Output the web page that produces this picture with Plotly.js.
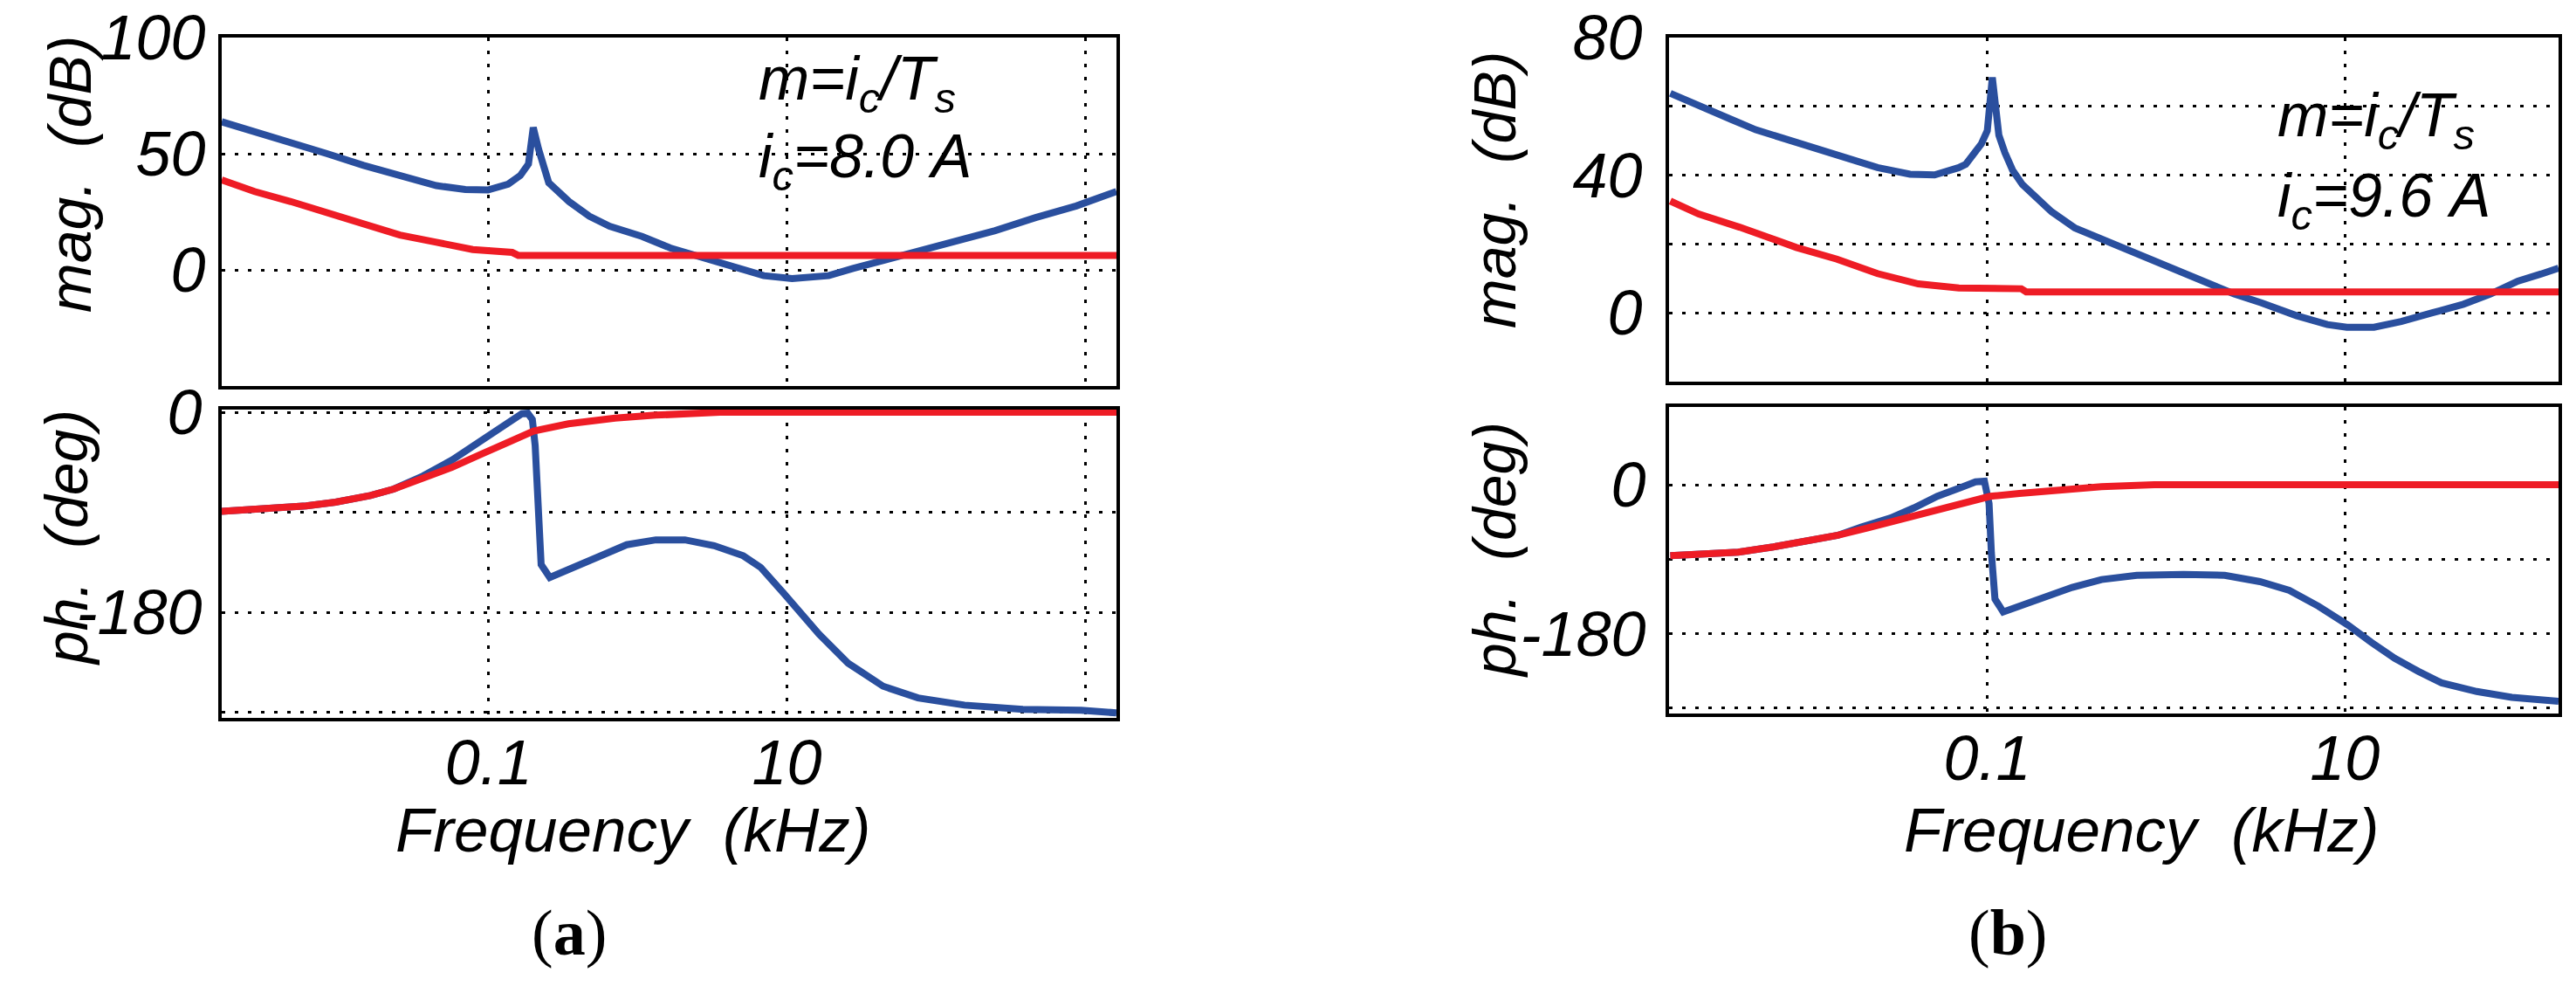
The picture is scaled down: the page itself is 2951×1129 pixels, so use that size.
<!DOCTYPE html>
<html><head><meta charset="utf-8">
<script src="https://cdn.plot.ly/plotly-3.0.1.min.js"></script>
<style>html,body{margin:0;padding:0;background:#fff;}#chart{width:2951px;height:1129px;}</style>
</head><body><div id="chart"></div>
<script>
// ---------------- DATA (frequency in kHz) ----------------
// Panel (a): i_c = 8.0 A
const fA_magBlue = [0.00162,0.00471,0.00826,0.01449,0.0254,0.0446,0.0698,0.09886,0.1352,0.1629,0.1849,0.1991,0.2163,0.2529,0.3459,0.4732,0.6471,1.069,1.656,2.570,4.236,6.998,10.84,19.05,27.73,43.05,71.12,133.0,248.9,465.6,871.0,1622];
const magA_blue  = [63.75,55,50,45,40.6,36.25,34.6,34.4,36.9,40.6,45.6,61.25,51.9,37.5,29.4,23.1,18.75,14.4,9.4,5.6,1.9,-2.5,-3.75,-2.5,0.6,3.75,7.5,12.5,16.9,22.5,27.5,33.75];
const fA_magRed  = [0.00162,0.00269,0.00471,0.00826,0.01449,0.0254,0.0446,0.0782,0.1439,0.158,1622];
const magA_red   = [38.75,33.75,29.4,24.4,19.4,15,11.9,8.75,7.5,6.25,6.25];
const fA_phRed   = [0.00162,0.003192,0.005984,0.009397,0.01611,0.02307,0.03622,0.05675,0.08892,0.1396,0.2000,0.3428,0.7047,1.321,3.556,1622];
const phA_red    = [-89.2,-86.9,-84.3,-80.9,-74.9,-69.1,-59.2,-49.6,-37.8,-26.1,-17,-10.4,-5.2,-2.6,0,0];
const fA_phBlue  = [0.00162,0.003192,0.005984,0.009397,0.01611,0.02307,0.03622,0.05675,0.08892,0.1274,0.1671,0.1828,0.1963,0.2051,0.2148,0.2249,0.2570,0.3428,0.5370,0.8433,1.321,2.070,3.251,5.093,6.668,9.550,12.53,16.41,25.70,44.16,75.68,155.2,382.0,939.7,1622];
const phA_blue   = [-89.2,-86.9,-84.3,-80.9,-74.9,-69.1,-57.4,-43,-26.1,-13,-1.3,-0.8,-6.5,-30,-82.2,-137,-148.7,-142.2,-130.4,-119.2,-114.8,-114.8,-120,-129.1,-139.6,-163.1,-181.3,-199.6,-225.7,-246.5,-257,-263.5,-267.4,-268.2,-270.5];

// Panel (b): i_c = 9.6 A
const fB_magBlue = [0.001687,0.002432,0.003698,0.005070,0.008551,0.01442,0.02432,0.03698,0.05070,0.06934,0.07586,0.09268,0.1,0.1067,0.1161,0.1253,0.1384,0.1570,0.1871,0.2286,0.3083,0.4375,0.6209,0.9268,1.253,1.871,2.399,3.412,5.346,7.980,10.26,14.55,20.65,30.83,46.03,65.31,92.68,125.3,156.7];
const magB_blue  = [63.8,60,56.2,53.2,49.4,45.6,42.2,40.3,40.1,42.2,43.2,49.1,52.9,68.4,51.6,46.6,41.5,37.3,33.6,29.4,24.7,21.4,18,14.3,11.3,8,5.5,2.9,-0.8,-3.4,-4.2,-4.2,-2.5,0,2.5,5.5,9.2,11.3,13.0];
const fB_magRed  = [0.001687,0.002432,0.004111,0.008551,0.01442,0.02432,0.04111,0.06934,0.155,0.165,156.7];
const magB_red   = [32.5,28.7,24.9,19,15.6,11.4,8.4,7.2,7.0,6.1,6.1];
const fB_phRed   = [0.001687,0.002773,0.004046,0.006353,0.01,0.01459,0.02128,0.03350,0.05260,0.07674,0.1038,0.1514,0.2382,0.4355,0.8590,156.7];
const phB_red    = [-85.7,-83.2,-81.5,-75.2,-68.2,-61.2,-52.5,-42,-29.7,-21,-14,-10.5,-6.3,-2.4,0,0];
const fB_phBlue  = [0.001687,0.002773,0.004046,0.006353,0.01,0.01459,0.01972,0.02877,0.03890,0.05260,0.07112,0.08590,0.09638,0.1023,0.1054,0.1104,0.1227,0.1514,0.2046,0.2985,0.4355,0.6855,1.253,2.128,3.350,4.887,7.112,10.38,14.06,19.01,25.70,34.75,54.70,85.90,156.7];
const phB_blue   = [-85.7,-83.2,-81.5,-75.2,-68.2,-61.2,-51.4,-40.2,-28,-14,-3.5,3.5,4.2,-22.7,-82.2,-138.2,-153.9,-146.9,-136.4,-124.2,-114.7,-109.5,-108.4,-109.5,-117.2,-127.7,-146.9,-169.6,-190.6,-209.9,-225.6,-239.6,-250.1,-257.1,-262];

// tick labels (labelled) and extra unlabelled grid positions
const xTickValsA = [0.1, 10];
const xTickTextA = ['0.1', '10'];
const xGridA = [1000];
const xTickValsB = [0.1, 10];
const xTickTextB = ['0.1', '10'];
const magTickValsA = [0, 50, 100];
const magTickTextA = ['0', '50', '100'];
const magGridA = [-50];
const magTickValsB = [0, 40, 80];
const magTickTextB = ['0', '40', '80'];
const magGridB = [-20, 20, 60];
const phTickVals = [-180, 0];
const phTickText = ['-180', '0'];
const phGrid = [-270, -90];

// ---------------- LAYOUT ----------------
const W = 2951, H = 1129;
const X = p => p / W;
const Y = p => 1 - p / H;
const SANS = 'Liberation Sans, Arial, sans-serif';
const BLUE = '#2a4f9e', RED = '#ee1c25';
const LW = 8;

function line(x, y, color, xa, ya) {
  return {x: x, y: y, xaxis: xa, yaxis: ya, type: 'scatter', mode: 'lines',
          line: {color: color, width: LW, shape: 'linear'}, hoverinfo: 'skip', showlegend: false};
}

const data = [
  line(fA_magBlue, magA_blue, BLUE, 'x', 'y'),
  line(fA_magRed, magA_red, RED, 'x', 'y'),
  line(fA_phBlue, phA_blue, BLUE, 'x2', 'y2'),
  line(fA_phRed, phA_red, RED, 'x2', 'y2'),
  line(fB_magBlue, magB_blue, BLUE, 'x3', 'y3'),
  line(fB_magRed, magB_red, RED, 'x3', 'y3'),
  line(fB_phBlue, phB_blue, BLUE, 'x4', 'y4'),
  line(fB_phRed, phB_red, RED, 'x4', 'y4')
];

const tickFont = {family: SANS, size: 72, color: '#000', style: 'italic'};
function ax(extra, gridVals) {
  const o = Object.assign({
    showline: true, linecolor: '#000', linewidth: 4, mirror: true,
    showgrid: true, gridcolor: '#000', gridwidth: 3, griddash: '4px,11px',
    zeroline: false, ticks: '', tickmode: 'array', tickfont: tickFont,
    fixedrange: true, automargin: false
  }, extra);
  if (gridVals) {
    o.minor = {tickmode: 'array', tickvals: gridVals, showgrid: true, ticks: '',
               gridcolor: '#000', gridwidth: 3, griddash: '4px,11px'};
  }
  return o;
}

const layout = {
  width: W, height: H,
  margin: {l: 0, r: 0, t: 0, b: 0, pad: 0},
  paper_bgcolor: '#fff', plot_bgcolor: '#fff',
  font: {family: SANS, color: '#000'},
  showlegend: false,
  // panel (a)
  xaxis:  ax({type: 'log', domain: [X(254), X(1279)], range: [-2.79, 3.21], anchor: 'y',
              tickvals: xTickValsA, ticktext: xTickTextA, showticklabels: false}, xGridA),
  yaxis:  ax({domain: [Y(442), Y(43)], range: [-50, 100], anchor: 'x',
              tickvals: magTickValsA, ticktext: magTickTextA}, magGridA),
  xaxis2: ax({type: 'log', domain: [X(254), X(1279)], range: [-2.79, 3.21], anchor: 'y2',
              tickvals: xTickValsA, ticktext: xTickTextA, ticklabelstandoff: -14}, xGridA),
  yaxis2: ax({domain: [Y(822), Y(469)], range: [-275, 2.4], anchor: 'x2',
              tickvals: phTickVals, ticktext: phTickText, ticklabelstandoff: 4}, phGrid),
  // panel (b)
  xaxis3: ax({type: 'log', domain: [X(1912), X(2931)], range: [-2.78, 2.195], anchor: 'y3',
              tickvals: xTickValsB, ticktext: xTickTextB, showticklabels: false}),
  yaxis3: ax({domain: [Y(437), Y(43)], range: [-20, 80], anchor: 'x3',
              tickvals: magTickValsB, ticktext: magTickTextB, ticklabelstandoff: 12}, magGridB),
  xaxis4: ax({type: 'log', domain: [X(1912), X(2931)], range: [-2.78, 2.195], anchor: 'y4',
              tickvals: xTickValsB, ticktext: xTickTextB, ticklabelstandoff: -14}),
  yaxis4: ax({domain: [Y(817), Y(466)], range: [-276.7, 94], anchor: 'x4',
              tickvals: phTickVals, ticktext: phTickText, ticklabelstandoff: 8}, phGrid),
  annotations: []
};

const labFont = {family: SANS, size: 70, color: '#000', style: 'italic'};
function ann(text, x, y, opts) {
  layout.annotations.push(Object.assign({
    text: text, xref: 'paper', yref: 'paper', x: X(x), y: Y(y),
    xanchor: 'center', yanchor: 'middle', showarrow: false, font: labFont
  }, opts || {}));
}
const NB = '\u00A0';
const yTitleFont = Object.assign({}, labFont, {size: 68});
// axis titles
ann('mag.' + NB + NB + '(dB)', 80, 200, {textangle: -90, font: yTitleFont});
ann('ph.' + NB + NB + '(deg)', 76, 616, {textangle: -90, font: yTitleFont});
ann('mag.' + NB + NB + '(dB)', 1712, 218, {textangle: -90, font: yTitleFont});
ann('ph.' + NB + NB + '(deg)', 1712, 630, {textangle: -90, font: yTitleFont});
ann('Frequency' + NB + NB + '(kHz)', 725, 950, {font: Object.assign({}, labFont, {size: 71})});
ann('Frequency' + NB + NB + '(kHz)', 2453, 950, {font: Object.assign({}, labFont, {size: 71})});
// in-plot notes
ann('m=i<sub>c</sub>/T<sub>s</sub>', 867, 95, {xanchor: 'left'});
ann('i<sub>c</sub>=8.0' + NB + 'A', 867, 184, {xanchor: 'left'});
ann('m=i<sub>c</sub>/T<sub>s</sub>', 2607, 137, {xanchor: 'left'});
ann('i<sub>c</sub>=9.6' + NB + 'A', 2607, 229, {xanchor: 'left'});
// panel captions
const capFont = {family: 'Liberation Serif, Times New Roman, serif', size: 74, color: '#000'};
ann('(<b>a</b>)', 652, 1068, {font: capFont});
ann('(<b>b</b>)', 2300, 1068, {font: capFont});

Plotly.newPlot('chart', data, layout, {staticPlot: true, displayModeBar: false});
</script>
</body></html>
